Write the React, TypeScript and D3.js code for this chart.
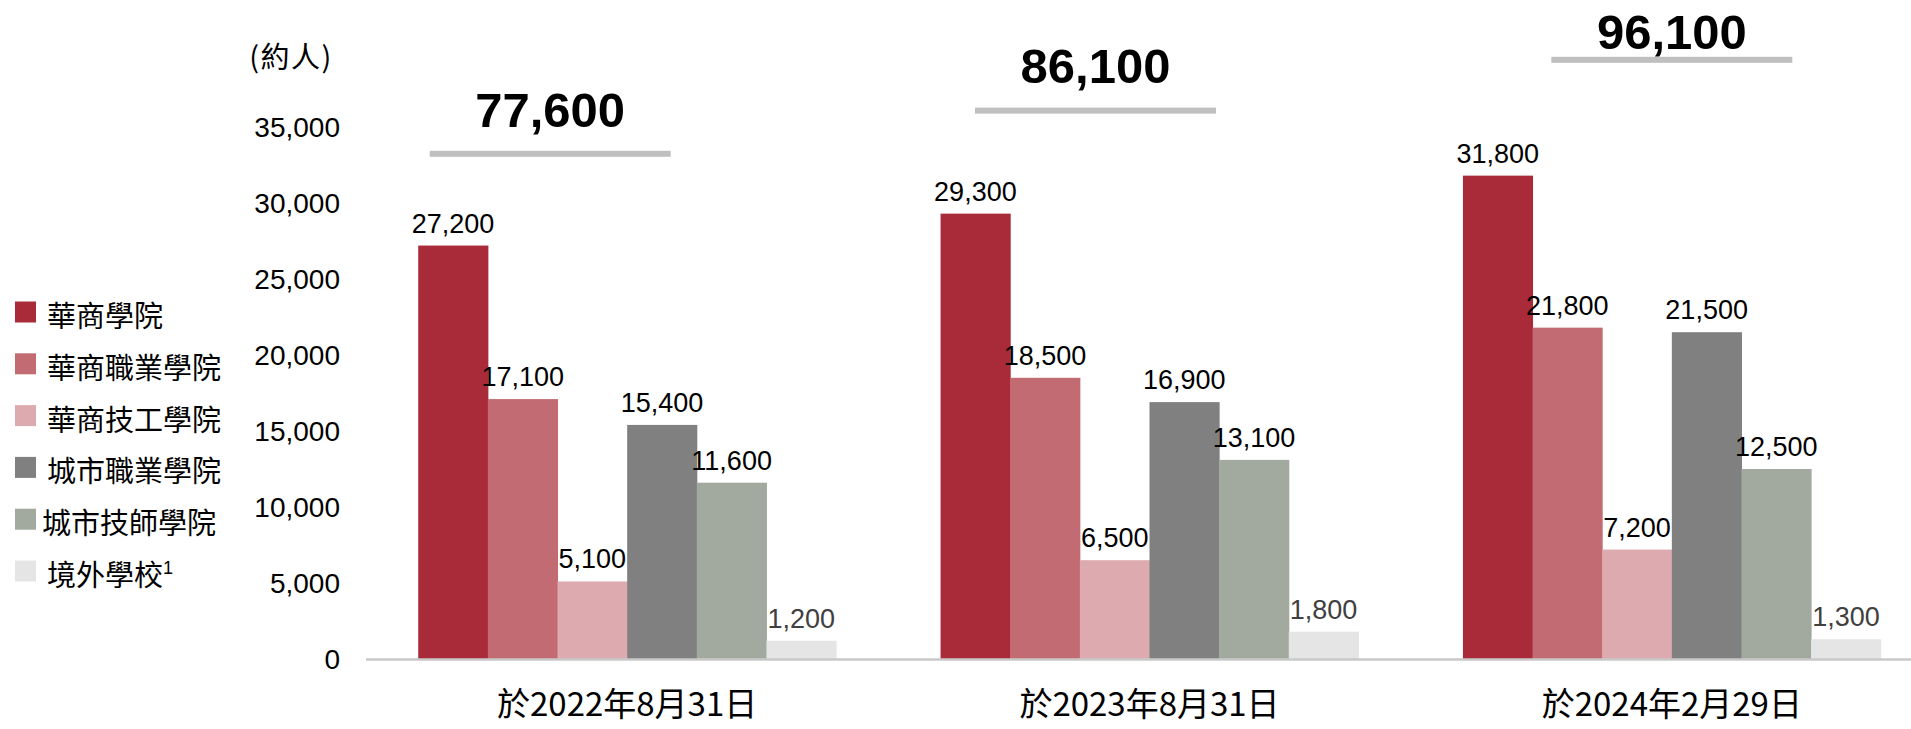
import * as d3 from 'd3';

const categories = ['於2022年8月31日', '於2023年8月31日', '於2024年2月29日'];
const seriesNames = ['華商學院', '華商職業學院', '華商技工學院', '城市職業學院', '城市技師學院', '境外學校'];
const hkcValues = [27200, 29300, 31800];
const hkcVocValues = [17100, 18500, 21800];
const hkcTechValues = [5100, 6500, 7200];
const cityVocValues = [15400, 16900, 21500];
const cityTechValues = [11600, 13100, 12500];
const overseasValues = [1200, 1800, 1300];
const totals = [77600, 86100, 96100];
const yTicks = [0, 5000, 10000, 15000, 20000, 25000, 30000, 35000];

const series = [hkcValues, hkcVocValues, hkcTechValues, cityVocValues, cityTechValues, overseasValues];
const colors = ['#A92B39', '#C36B72', '#DDAAAF', '#808080', '#A2AA9F', '#E5E5E5'];

// placement of the total annotations (hand placed in the original)
const totalDx = [-77, -54, 0];
const totalTextGap = [27, 28, 11];

const width = 1911;
const height = 729;
const numFont = '"Liberation Sans", Arial, sans-serif';
const cjkFont = '"Noto Sans CJK TC", "Noto Sans CJK SC", sans-serif';

const App = (): React.ReactElement => {
  const x0 = d3.scaleBand().domain(categories).range([366, 1933]).paddingInner(0.2).paddingOuter(0.1);
  const x1 = d3
    .scaleBand()
    .domain(seriesNames)
    .range([0, x0.bandwidth()]);
  const y = d3.scaleLinear().domain([0, 35000]).range([659, 127]);
  const yTotal = d3.scaleLinear().domain([0, 100000]).range([548, 40]);
  const fmt = d3.format(',');

  return (
    <svg width={width} height={height} style={{ position: 'absolute', left: 0, top: 0, background: '#fff' }}>
      <text x={291} y={68} fontFamily={cjkFont} fontSize={29} letterSpacing={1.5} textAnchor="middle" fill="#000">
        (約人)
      </text>

      {yTicks.map((t) => (
        <text key={t} x={340} y={y(t) + 10} textAnchor="end" fontFamily={numFont} fontSize={28} fill="#000">
          {fmt(t)}
        </text>
      ))}

      {categories.map((c, gi) => (
        <g key={c} transform={'translate(' + (x0(c) ?? 0) + ',0)'}>
          {series.map((vals, si) => {
            const bx = x1(seriesNames[si]) ?? 0;
            const v = vals[gi];
            return (
              <g key={si}>
                <rect x={bx} y={y(v)} width={x1.bandwidth() + 0.5} height={y(0) - y(v)} fill={colors[si]} />
                <text
                  x={bx + x1.bandwidth() / 2}
                  y={y(v) - 13}
                  textAnchor="middle"
                  fontFamily={numFont}
                  fontSize={27}
                  fill={si === 5 ? '#404040' : '#000'}
                >
                  {fmt(v)}
                </text>
              </g>
            );
          })}
        </g>
      ))}

      <line x1={366} x2={width} y1={659.5} y2={659.5} stroke="#C8C8C8" strokeWidth={2.5} />

      {categories.map((c, gi) => {
        const cx = (x0(c) ?? 0) + x0.bandwidth() / 2;
        const lx = cx + totalDx[gi];
        const ly = yTotal(totals[gi]);
        return (
          <g key={'t' + c}>
            <rect x={lx - 120.5} y={ly - 3} width={241} height={6} fill="#BFBFBF" />
            <text
              x={lx}
              y={ly - totalTextGap[gi]}
              textAnchor="middle"
              fontFamily={numFont}
              fontSize={49}
              fontWeight="bold"
              fill="#000"
            >
              {fmt(totals[gi])}
            </text>
            <text x={cx} y={716} textAnchor="middle" fontFamily={cjkFont} fontSize={33} fill="#000">
              {c}
            </text>
          </g>
        );
      })}

      {seriesNames.map((n, i) => {
        const cy = 312 + i * 51.8;
        return (
          <g key={n}>
            <rect x={15} y={cy - 10.5} width={21} height={21} fill={colors[i]} />
            <text x={i === 4 ? 42 : 47} y={cy + 15} fontFamily={cjkFont} fontSize={29} fill="#000">
              {n}
              {i === 5 ? (
                <tspan fontFamily={numFont} fontSize={18} dy={-12}>
                  1
                </tspan>
              ) : null}
            </text>
          </g>
        );
      })}
    </svg>
  );
};

export default App;
